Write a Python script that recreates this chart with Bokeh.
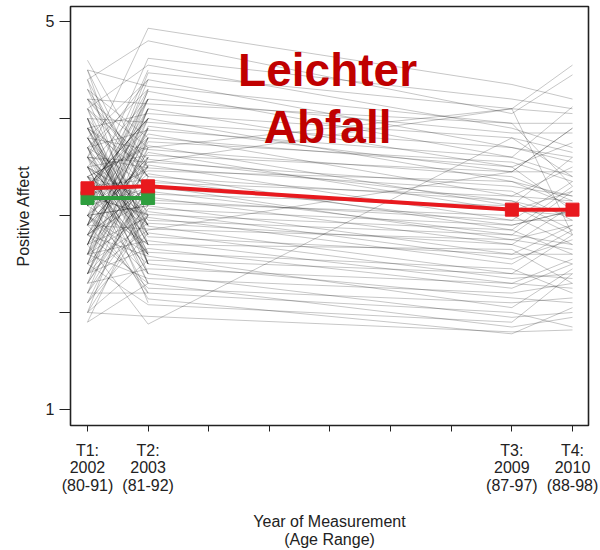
from bokeh.plotting import figure
from bokeh.models import Label, FixedTicker
from bokeh.embed import file_html
from bokeh.resources import INLINE

# ---------------- data ----------------
years = [2002, 2003, 2009, 2010]
tick_labels = ["T1:\n2002\n(80-91)", "T2:\n2003\n(81-92)", "T3:\n2009\n(87-97)", "T4:\n2010\n(88-98)"]
all_ticks = [2002, 2003, 2004, 2005, 2006, 2007, 2008, 2009, 2010]
y_ticks = [1, 2, 3, 4, 5]

# participants measured only at T1 and T2
d1 = [3.9, 2.4, 3.1, 4.5, 2.8, 3.6, 2.1, 3.3, 4.2, 2.7, 3.0, 3.8, 2.5, 4.0, 3.4, 2.9, 3.7, 2.2, 4.3, 3.2,
      2.6, 3.5, 4.1, 2.3, 3.0, 3.9, 2.8, 3.4, 4.4, 2.0, 3.6, 3.1, 2.7, 4.0, 3.3, 2.4, 3.8, 2.9, 3.5, 4.2,
      3.0, 2.6, 3.7, 3.2, 4.6, 2.5, 3.4, 2.9, 3.9, 2.2, 3.1, 4.1, 2.8, 3.6, 3.3, 2.0, 3.8, 2.7, 4.3, 3.0,
      3.5, 2.4, 3.2, 3.9, 2.6, 4.0, 3.4, 2.9, 3.7, 1.9, 3.1, 4.4, 2.8, 3.5, 3.3, 2.3, 3.8, 3.0, 4.1, 2.7,
      3.6, 2.5, 3.2, 4.2, 2.9, 3.4, 2.1, 3.7, 3.0, 4.5, 2.6, 3.3, 3.9, 2.8, 3.5, 2.4, 3.1, 4.0, 2.7, 3.6]
d2 = [2.9, 3.6, 4.1, 3.2, 2.3, 4.4, 3.0, 2.6, 3.5, 3.9, 2.4, 3.1, 4.0, 2.8, 3.7, 4.2, 2.5, 3.3, 3.0, 2.7,
      4.3, 2.9, 3.4, 3.8, 2.2, 3.5, 4.0, 2.6, 3.2, 3.6, 2.8, 4.5, 3.3, 2.5, 3.9, 3.1, 2.7, 4.1, 2.4, 3.4,
      3.8, 3.0, 2.3, 4.2, 3.5, 3.2, 2.6, 4.4, 2.9, 3.7, 4.0, 2.5, 3.3, 2.1, 3.8, 3.0, 2.8, 4.1, 3.4, 2.6,
      3.1, 3.9, 4.3, 2.7, 3.5, 2.4, 3.0, 3.6, 2.9, 3.2, 4.2, 2.5, 3.8, 2.3, 4.0, 3.3, 2.7, 3.5, 2.9, 3.9,
      2.6, 4.1, 3.0, 2.8, 3.6, 2.2, 3.4, 4.3, 3.1, 2.7, 3.7, 4.0, 2.5, 3.3, 2.9, 3.8, 3.5, 2.6, 4.2, 3.0]

# participants measured at all four occasions
c1 = [3.6, 4.4, 3.2, 4.1, 2.9, 3.8, 4.5, 3.0, 3.5, 4.2, 2.6, 3.9, 3.3, 4.0, 2.7, 3.7, 3.1, 4.3, 2.5, 3.4,
      3.8, 2.8, 3.5, 4.1, 3.0, 2.4, 3.6, 3.2, 2.9, 3.9, 3.3, 2.6, 3.7, 3.1, 4.0, 2.3, 3.4, 2.8, 3.5, 3.0,
      2.2, 3.6, 3.2, 2.7, 3.8, 2.5, 3.3, 2.9, 2.1, 3.4, 2.6, 3.1, 2.4, 3.7, 2.8, 2.0, 3.0, 2.3, 3.5, 2.6,
      1.9, 2.9, 2.2, 3.2, 2.5, 2.0, 2.7, 3.6, 2.4, 4.2]
c2 = [4.93, 4.80, 4.62, 4.55, 4.47, 4.40, 4.33, 4.28, 4.20, 4.15, 4.10, 4.05, 4.00, 3.96, 3.92, 3.88, 3.84, 3.80, 3.76, 3.72,
      3.68, 3.65, 3.62, 3.58, 3.55, 3.52, 3.49, 3.46, 3.43, 3.40, 3.37, 3.34, 3.31, 3.28, 3.25, 3.22, 3.19, 3.16, 3.13, 3.10,
      3.07, 3.04, 3.01, 2.98, 2.95, 2.92, 2.89, 2.86, 2.82, 2.78, 2.74, 2.70, 2.66, 2.62, 2.58, 2.54, 2.50, 2.45, 2.40, 2.35,
      2.30, 2.25, 2.20, 2.14, 2.08, 1.96, 1.88, 3.55, 2.85, 3.70]
c3 = [4.35, 4.05, 4.20, 3.90, 4.10, 3.70, 3.95, 3.60, 3.85, 3.95, 3.50, 3.80, 3.35, 3.70, 3.45, 3.60, 3.20, 3.50, 3.55, 3.10,
      3.40, 3.05, 3.45, 3.15, 3.30, 2.95, 3.25, 3.35, 2.85, 3.15, 2.90, 3.20, 2.75, 3.05, 2.80, 3.10, 2.70, 2.95, 3.00, 2.60,
      2.90, 2.55, 2.85, 2.50, 2.80, 2.70, 2.40, 2.75, 2.35, 2.60, 2.30, 2.65, 2.25, 2.45, 2.05, 2.40, 2.15, 2.30, 1.95, 2.20,
      1.85, 2.10, 2.00, 1.78, 1.90, 1.80, 3.80, 4.10, 3.45, 4.10]
c4 = [4.20, 4.45, 4.10, 3.70, 4.05, 3.60, 3.95, 4.12, 3.85, 3.30, 3.75, 3.65, 3.20, 3.55, 3.90, 3.40, 3.50, 3.05, 3.35, 3.60,
      3.15, 3.25, 3.45, 3.00, 3.20, 3.35, 2.95, 3.10, 3.30, 2.85, 3.05, 3.15, 2.90, 3.00, 3.25, 2.80, 3.10, 2.95, 2.70, 2.90,
      3.05, 2.75, 2.60, 2.85, 2.70, 2.50, 2.80, 2.65, 2.40, 2.60, 2.55, 2.30, 2.50, 2.20, 2.45, 2.35, 2.10, 2.25, 2.00, 2.30,
      1.95, 2.15, 1.85, 2.05, 2.40, 1.82, 3.40, 2.80, 3.90, 4.55]

mean_all = [3.28, 3.30, 3.06, 3.06]    # red: all participants
mean_t12 = [3.18, 3.18]                # green: T1-T2

# ---------------- figure ----------------
p = figure(width=598, height=550, output_backend="svg", toolbar_location=None,
           x_range=(2001.72, 2010.264), y_range=(0.835, 5.154),
           min_border_left=70, min_border_right=10, min_border_top=6, min_border_bottom=124,
           background_fill_color="white", border_fill_color="white")
p.xgrid.visible = False
p.ygrid.visible = False
p.outline_line_color = "#222222"
p.outline_line_width = 1.6
p.outline_line_alpha = 1.0

# spaghetti lines
xs, ys = [], []
for a, b in zip(d1, d2):
    xs.append(years[:2]); ys.append([a, b])
for a, b, c, d in zip(c1, c2, c3, c4):
    xs.append(years); ys.append([a, b, c, d])
p.multi_line(xs, ys, line_color="black", line_alpha=0.38, line_width=0.6)

green = "#2E9E3E"
red = "#E8191E"
p.line(years[:2], mean_t12, line_color=green, line_width=4)
p.scatter(years[:2], mean_t12, marker="square", size=13, color=green)
p.line(years, mean_all, line_color=red, line_width=4)
p.scatter(years, mean_all, marker="square", size=13, color=red)

for txt, yy in (("Leichter", 4.50), ("Abfall", 3.91)):
    p.add_layout(Label(x=2005.96, y=yy, text=txt, text_align="center", text_baseline="alphabetic",
                       text_font="Liberation Sans", text_font_style="bold", text_font_size="46px",
                       text_color="#C00000"))

# axes
xa = p.xaxis[0]
xa.ticker = FixedTicker(ticks=all_ticks)
overrides = {t: "" for t in all_ticks}
overrides.update({y: l for y, l in zip(years, tick_labels)})
xa.major_label_overrides = overrides
xa.axis_line_color = None
xa.major_tick_in = 0
xa.major_tick_out = 6
xa.minor_tick_line_color = None
xa.major_tick_line_color = "#222222"
xa.major_label_standoff = 10
xa.major_label_text_font = "Liberation Sans"
xa.major_label_text_font_size = "16px"
xa.major_label_text_color = "#222222"
xa.major_label_text_line_height = 1.04
xa.axis_label = "Year of Measurement\n(Age Range)"
xa.axis_label_text_font = "Liberation Sans"
xa.axis_label_text_font_size = "16px"
xa.axis_label_text_font_style = "normal"
xa.axis_label_text_color = "#222222"
xa.axis_label_text_line_height = 1.04
xa.axis_label_standoff = 16

ya = p.yaxis[0]
ya.ticker = FixedTicker(ticks=y_ticks)
ya.major_label_overrides = {2: "", 3: "", 4: ""}
ya.axis_line_color = None
ya.major_tick_in = 0
ya.major_tick_out = 11
ya.minor_tick_line_color = None
ya.major_tick_line_color = "#222222"
ya.major_label_standoff = 5
ya.major_label_orientation = "horizontal"
ya.major_label_text_font = "Liberation Sans"
ya.major_label_text_font_size = "16px"
ya.major_label_text_color = "#222222"
ya.axis_label = "Positive Affect"
ya.axis_label_text_font = "Liberation Sans"
ya.axis_label_text_font_size = "16px"
ya.axis_label_text_font_style = "normal"
ya.axis_label_text_color = "#222222"
ya.axis_label_standoff = 11

open("out.html", "w").write(file_html(p, INLINE))
